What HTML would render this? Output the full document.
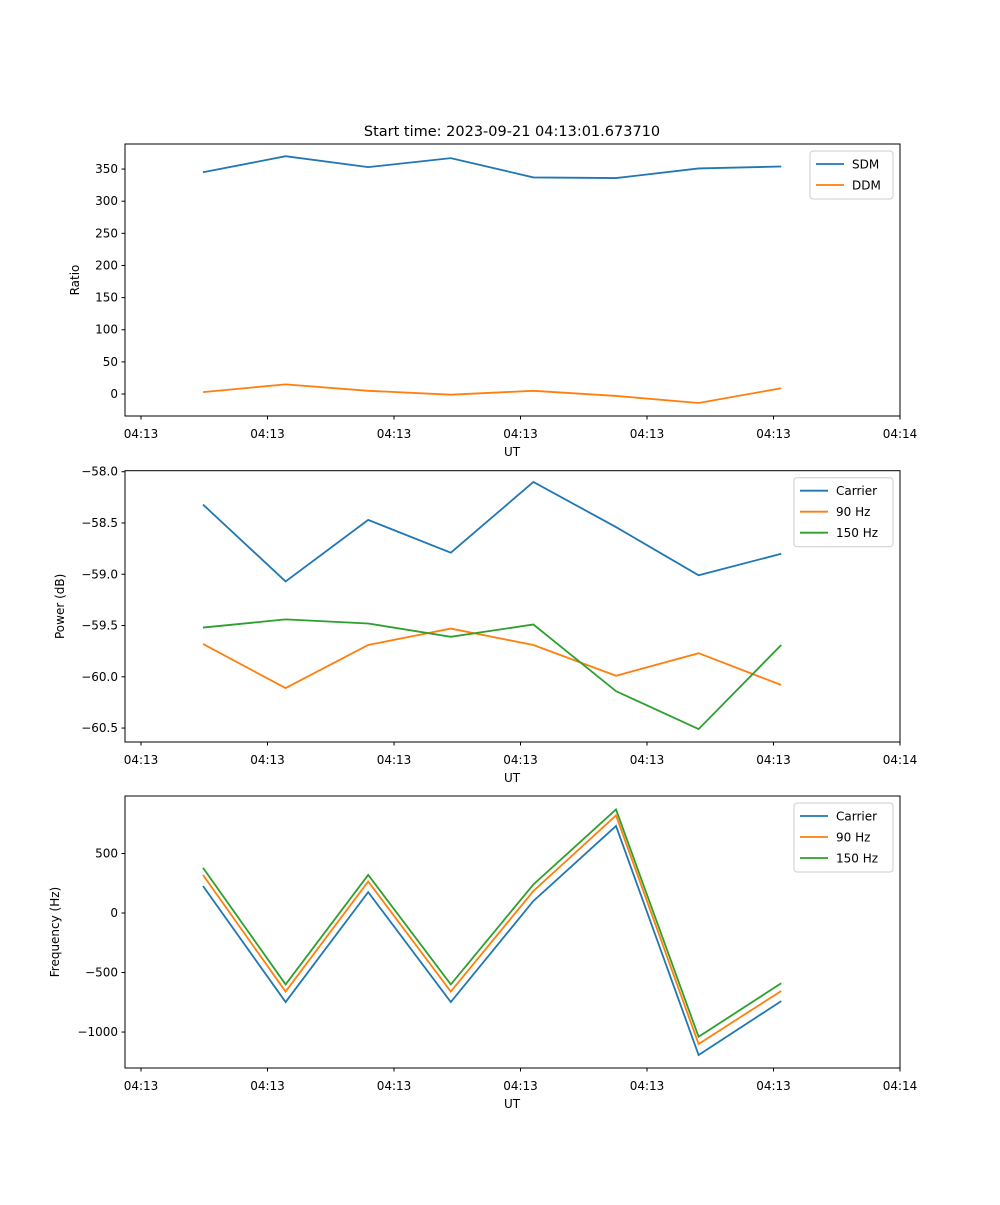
<!DOCTYPE html>
<html><head><meta charset="utf-8"><style>
body{margin:0;background:#fff}
svg text{font-family:"DejaVu Sans","Liberation Sans",sans-serif;fill:#000}
</style></head><body>
<svg id="fig" width="1000" height="1200" xmlns="http://www.w3.org/2000/svg">
<text x="512" y="136" font-size="14.5" text-anchor="middle">Start time: 2023-09-21 04:13:01.673710</text>
</svg>
<script>
const times = [4.9, 11.43, 17.96, 24.49, 31.02, 37.55, 44.08, 50.61];
const xTickVals = [0, 10, 20, 30, 40, 50, 60];
const xTickLabels = ["04:13","04:13","04:13","04:13","04:13","04:13","04:14"];
const sdm = [345, 370, 353, 367, 337, 336, 351, 354];
const ddm = [3, 15, 5, -1, 5, -3, -14, 9];
const powCarrier = [-58.32, -59.07, -58.47, -58.79, -58.10, -58.54, -59.01, -58.80];
const pow90 = [-59.68, -60.11, -59.69, -59.53, -59.69, -59.99, -59.77, -60.08];
const pow150 = [-59.52, -59.44, -59.48, -59.61, -59.49, -60.14, -60.51, -59.69];
const freqCarrier = [227, -748, 176, -748, 101, 731, -1193, -740];
const freq90 = [320, -660, 265, -660, 185, 820, -1100, -655];
const freq150 = [380, -600, 320, -600, 240, 870, -1040, -590];
const ratioTicks = [0,50,100,150,200,250,300,350];
const powTicks = [-58.0,-58.5,-59.0,-59.5,-60.0,-60.5];
const freqTicks = [-1000,-500,0,500];

const C = {blue:"#1f77b4", orange:"#ff7f0e", green:"#2ca02c"};
const svg = document.getElementById('fig');
const NS = "http://www.w3.org/2000/svg";
function mk(tag, attrs, parent){const e=document.createElementNS(NS,tag);for(const k in attrs)e.setAttribute(k,attrs[k]);(parent||svg).appendChild(e);return e;}
const L=125,R=900;
const xScale = t => 141 + (t/10)*126.5;

function panel(name, top, bottom, ymin, ymax, yticks, fmt, ylabel, series, legendW){
  const g = mk('g',{});
  
  
  const ys = v => bottom - (v-ymin)/(ymax-ymin)*(bottom-top);
  series.forEach(s=>{
    const p = mk('polyline',{points:s.vals.map((v,i)=>xScale(times[i])+','+ys(v)).join(' '),fill:'none',stroke:s.color,'stroke-width':1.8},g);
    
    
  });
  const frame = mk('rect',{x:L,y:top,width:R-L,height:bottom-top,fill:'none',stroke:'#000','stroke-width':1},g);
  
  
  yticks.forEach(v=>{
    const y=ys(v);
    mk('line',{x1:L-3.5,x2:L,y1:y,y2:y,stroke:'#000'},g);
    const t=mk('text',{x:L-7,y:y+4,'font-size':12,'text-anchor':'end'},g);
    t.textContent=fmt(v);
    
    
  });
  xTickVals.forEach((v,i)=>{
    const x=xScale(v);
    mk('line',{x1:x,x2:x,y1:bottom,y2:bottom+3.5,stroke:'#000'},g);
    const t=mk('text',{x:x,y:bottom+22,'font-size':12,'text-anchor':'middle'},g);
    t.textContent=xTickLabels[i];
    
    
  });
  const xl=mk('text',{x:512,y:bottom+40,'font-size':12,'text-anchor':'middle'},g);
  xl.textContent='UT';
  
  
  const cy=(top+bottom)/2;
  const yl=mk('text',{x:0,y:0,'font-size':12,'text-anchor':'middle',transform:`translate(${ylabel.x},${cy}) rotate(-90)`},g);
  yl.textContent=ylabel.text;
  
  
  const lh=21, lx=R-7-legendW, ly=top+7;
  const lg=mk('g',{},g);
  
  
  mk('rect',{x:lx,y:ly,width:legendW,height:series.length*lh+6,fill:'#fff',stroke:'#ccc',rx:3},lg);
  series.forEach((s,i)=>{
    const yy=ly+13+i*lh;
    mk('line',{x1:lx+6,x2:lx+34,y1:yy,y2:yy,stroke:s.color,'stroke-width':1.8},lg);
    const t=mk('text',{x:lx+42,y:yy+4.5,'font-size':12},lg);
    t.textContent=s.label;
    
    
  });
}
panel('ratio',144,416,-34.2,389,ratioTicks,v=>String(v),{text:'Ratio',x:79},
  [{key:'sdm',label:'SDM',vals:sdm,color:C.blue},{key:'ddm',label:'DDM',vals:ddm,color:C.orange}],83);
panel('power',470.7,742,-60.636,-57.99,powTicks,v=>(v<0?'\u2212':'')+Math.abs(v).toFixed(1),{text:'Power (dB)',x:64},
  [{key:'carrier',label:'Carrier',vals:powCarrier,color:C.blue},{key:'90hz',label:'90 Hz',vals:pow90,color:C.orange},{key:'150hz',label:'150 Hz',vals:pow150,color:C.green}],99);
panel('frequency',796,1068,-1302,983,freqTicks,v=>(v<0?'\u2212':'')+Math.abs(v),{text:'Frequency (Hz)',x:59},
  [{key:'carrier',label:'Carrier',vals:freqCarrier,color:C.blue},{key:'90hz',label:'90 Hz',vals:freq90,color:C.orange},{key:'150hz',label:'150 Hz',vals:freq150,color:C.green}],99);
</script>
</body></html>
